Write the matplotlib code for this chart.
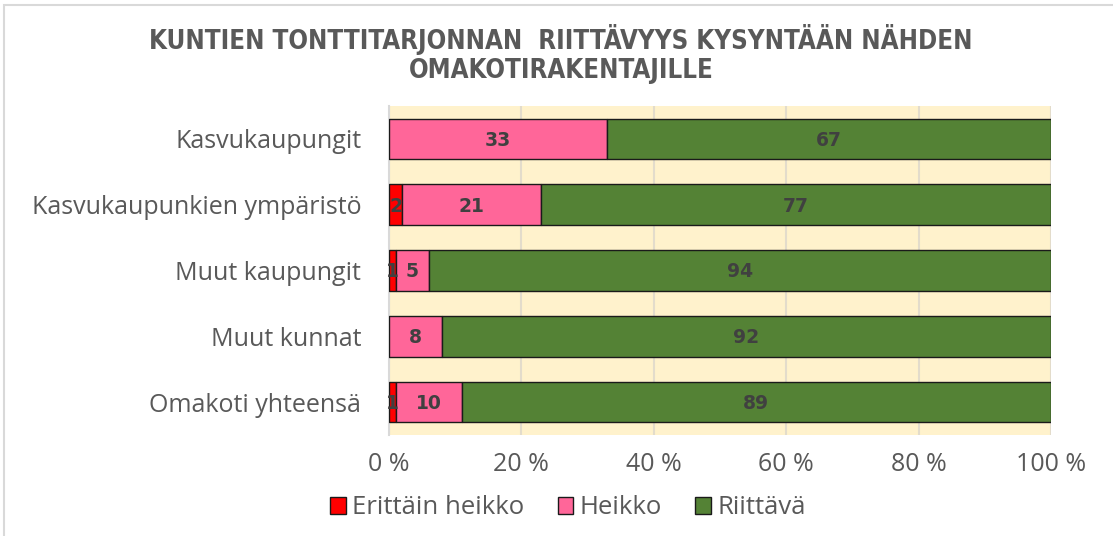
import matplotlib
matplotlib.use("Agg")
import matplotlib.pyplot as plt
from matplotlib.patches import Rectangle
import numpy as np

categories = ["Kasvukaupungit", "Kasvukaupunkien ympäristö", "Muut kaupungit",
              "Muut kunnat", "Omakoti yhteensä"]
series_names = ["Erittäin heikko", "Heikko", "Riittävä"]
erittain_heikko = [0, 2, 1, 0, 1]
heikko = [33, 21, 5, 8, 10]
riittava = [67, 77, 94, 92, 89]
xticks = [0, 20, 40, 60, 80, 100]
xtick_labels = ["0 %", "20 %", "40 %", "60 %", "80 %", "100 %"]
title = "KUNTIEN TONTTITARJONNAN  RIITTÄVYYS KYSYNTÄÄN NÄHDEN\nOMAKOTIRAKENTAJILLE"

colors = ["#ff0000", "#ff6699", "#548235"]
text_gray = "#595959"
label_gray = "#404040"

plt.rcParams['font.family'] = ['Open Sans', 'DejaVu Sans']

fig = plt.figure(figsize=(11.13, 5.36), dpi=100)
fig.patch.set_facecolor("white")
fig.patches.append(Rectangle((4/1113, -0.1), 1.2, 1.1 - 5/536,
                             transform=fig.transFigure, fill=False,
                             edgecolor="#d9d9d9", linewidth=1.5))
ax = fig.add_axes([389/1113, (536-435)/536, (1051-389)/1113, (435-106)/536])
ax.set_facecolor("#fff2cc")

y = np.arange(len(categories))
data = [erittain_heikko, heikko, riittava]
left = np.zeros(len(categories))
for vals, col, name in zip(data, colors, series_names):
    vals = np.array(vals, dtype=float)
    ax.barh(y, vals, left=left, height=0.62, color=col, edgecolor="#1a1a1a",
            linewidth=1.0, label=name, zorder=3)
    for yi, v, l in zip(y, vals, left):
        if v > 0:
            ax.text(l + v / 2, yi + 0.02, f"{int(v)}", ha="center", va="center",
                    fontsize=13.5, fontweight="bold", color=label_gray, zorder=4,
                    family=["DejaVu Sans"])
    left += vals

ax.set_xlim(0, 100)
ax.set_ylim(len(categories) - 0.5, -0.5)
ax.set_yticks(y)
ax.set_yticklabels(categories, fontsize=18, color=text_gray)
ax.set_xticks(xticks)
ax.set_xticklabels(xtick_labels, fontsize=18, color=text_gray)
ax.tick_params(axis="y", length=0, pad=20)
ax.tick_params(axis="x", length=0, pad=12)
ax.grid(axis="x", color="#e3dccb", linewidth=1.5, zorder=0)
ax.set_axisbelow(True)
for s in ["top", "right", "bottom"]:
    ax.spines[s].set_visible(False)
ax.spines["left"].set_color("#d9d9d9")
ax.spines["left"].set_linewidth(1.5)

fig.text(561/1113, 1 - 54/536, title, ha="center", va="center", fontsize=18.5,
         fontweight="bold", color=text_gray, linespacing=1.15,
         family=["DejaVu Sans"], fontstretch="condensed")

ax.legend(loc="center", bbox_to_anchor=(568/1113, 1 - 508/536), bbox_transform=fig.transFigure,
          ncol=3, frameon=False, fontsize=18.5, labelcolor=text_gray,
          handlelength=0.6, handleheight=0.6, handletextpad=0.25, columnspacing=1.3)

fig.savefig("out.png", dpi=100, facecolor="white")
